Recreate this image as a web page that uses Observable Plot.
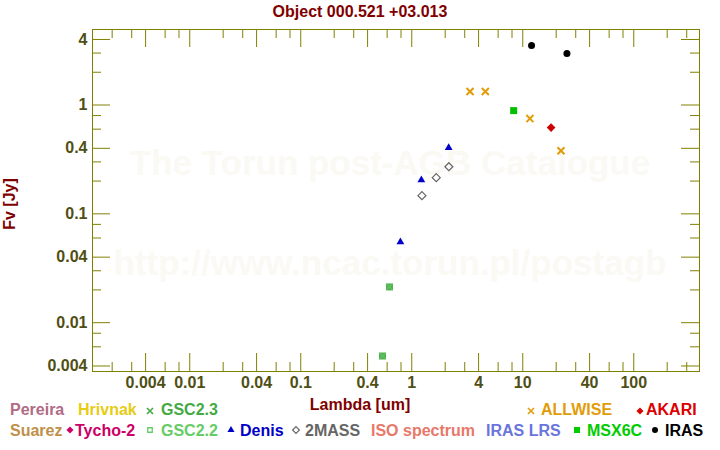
<!DOCTYPE html>
<html><head><meta charset="utf-8">
<script src="https://cdn.jsdelivr.net/npm/d3@7"></script>
<script src="https://cdn.jsdelivr.net/npm/@observablehq/plot@0.6"></script>
<style>
html,body{margin:0;padding:0;background:#fff;}
#wrap{position:relative;width:720px;height:450px;overflow:hidden;font-family:"Liberation Sans",Arial,sans-serif;font-weight:bold;font-size:16px;line-height:16px;}
.abs{position:absolute;white-space:nowrap;}
#chart{position:absolute;left:0;top:0;z-index:1;}
.wm{position:absolute;left:0;width:780px;text-align:center;font-size:35px;line-height:35px;color:#fbf9f4;z-index:0;}
</style>
</head><body>
<div id="wrap">
  <div class="wm" style="top:145px">The Torun post-AGB Catalogue</div>
  <div class="wm" style="top:245px">http://www.ncac.torun.pl/postagb</div>
  <div id="chart"></div>
  <div class="abs" id="title" style="left:0;width:720px;text-align:center;top:4px;color:#800000;z-index:2">Object 000.521 +03.013</div>
  <div class="abs" style="left:0;width:720px;text-align:center;top:396.5px;color:#800000;z-index:2">Lambda [um]</div>
  <div class="abs" style="left:10px;top:204px;transform:translate(-50%,-50%) rotate(-90deg);color:#800000;z-index:2">Fv [Jy]</div>
  <div id="legend"></div>
</div>
<script>
// ---------- data ----------
const irasLambda = [12, 25];
const irasFlux = [3.52, 2.97];
const allwiseLambda = [3.35, 4.6, 11.6, 22.1];
const allwiseFlux = [1.33, 1.33, 0.75, 0.38];
const msxLambda = [8.28];
const msxFlux = [0.888];
const akariLambda = [18];
const akariFlux = [0.62];
const denisLambda = [0.79, 1.22, 2.15];
const denisFlux = [0.055, 0.205, 0.404];
const tmassLambda = [1.235, 1.662, 2.159];
const tmassFlux = [0.147, 0.215, 0.271];
const gscLambda = [0.545, 0.63];
const gscFlux = [0.00494, 0.0213];

const xTickLabels = [0.004, 0.01, 0.04, 0.1, 0.4, 1, 4, 10, 40, 100];
const yTickLabels = [0.004, 0.01, 0.04, 0.1, 0.4, 1, 4];
const minorMultipliers = [2, 3, 6, 8];

const legendNames = ["Pereira","Hrivnak","GSC2.3","ALLWISE","AKARI","Suarez","Tycho-2","GSC2.2","Denis","2MASS","ISO spectrum","IRAS LRS","MSX6C","IRAS"];
const legendColors = ["#b06c86","#e6cc14","#44aa44","#e29c08","#dd0000","#c0904a","#cc0066","#66cc66","#0000c8","#666666","#e8786a","#6a74dc","#00cc00","#000000"];
const legendSymbols = [null,null,"times","times","diamond2f",null,"diamond2f","squareo","trianglef","diamond2o",null,null,"squaref","circlef"];

// ---------- layout ----------
const W = 720, H = 400, mT = 29, mB = 29, mL = 92, mR = 21;
const iw = W - mL - mR, ih = H - mT - mB;
const longLen = 18, shortLen = 9;
const axisColor = "#808000";
const labelColor = "#4f4f14";
const xDomain = [0.00133, 391], yDomain = [0.00356, 4.94];

function minorTicks(domain) {
  const out = [];
  for (let e = -4; e <= 3; e++) for (const m of minorMultipliers) {
    const v = +(m * Math.pow(10, e)).toPrecision(6);
    if (v > domain[0] && v < domain[1]) out.push(v);
  }
  return out;
}
const xMinor = minorTicks(xDomain), yMinor = minorTicks(yDomain);
const fmt = d3.format("~g");

const rows = (xs, ys) => xs.map((x, i) => ({x, y: ys[i]}));

const chart = Plot.plot({
  width: W, height: H,
  marginTop: mT, marginBottom: mB, marginLeft: mL, marginRight: mR,
  style: {fontFamily: "Liberation Sans, Arial, sans-serif", fontSize: "16px", fontWeight: "bold", color: labelColor, background: "transparent", overflow: "visible"},
  x: {type: "log", domain: xDomain, axis: null},
  y: {type: "log", domain: yDomain, axis: null},
  marks: [
    // tick marks (inward, all four sides)
    Plot.ruleX(xMinor, {x: d => d, insetTop: ih - shortLen, stroke: axisColor}),
    Plot.ruleX(xMinor, {x: d => d, insetBottom: ih - shortLen, stroke: axisColor}),
    Plot.ruleX(xTickLabels, {x: d => d, insetTop: ih - longLen, stroke: axisColor}),
    Plot.ruleX(xTickLabels, {x: d => d, insetBottom: ih - longLen, stroke: axisColor}),
    Plot.ruleY(yMinor, {y: d => d, insetRight: iw - shortLen, stroke: axisColor}),
    Plot.ruleY(yMinor, {y: d => d, insetLeft: iw - shortLen, stroke: axisColor}),
    Plot.ruleY(yTickLabels, {y: d => d, insetRight: iw - longLen, stroke: axisColor}),
    Plot.ruleY(yTickLabels, {y: d => d, insetLeft: iw - longLen, stroke: axisColor}),
    Plot.frame({stroke: axisColor}),
    // tick labels
    Plot.text(xTickLabels, {x: d => d, text: d => fmt(d), frameAnchor: "bottom", lineAnchor: "top", dy: 5, fill: labelColor, fontSize: 16, fontWeight: "bold"}),
    Plot.text(yTickLabels, {y: d => d, text: d => fmt(d), frameAnchor: "left", textAnchor: "end", dx: -5, fill: labelColor, fontSize: 16, fontWeight: "bold"}),
    // data
    Plot.dot(rows(gscLambda, gscFlux), {x: "x", y: "y", symbol: "square", r: 3.95, fill: "#52b152", stroke: "none"}),
    Plot.dot(rows(gscLambda, gscFlux), {x: "x", y: "y", symbol: "times", r: 3.0, stroke: "#66cc66", strokeWidth: 1}),
    Plot.dot(rows(denisLambda, denisFlux), {x: "x", y: "y", symbol: "triangle", r: 2.9, fill: "#0000c8", stroke: "none"}),
    Plot.dot(rows(tmassLambda, tmassFlux), {x: "x", y: "y", symbol: "diamond2", r: 3.6, fill: "none", stroke: "#666666", strokeWidth: 1.2}),
    Plot.dot(rows(allwiseLambda, allwiseFlux), {x: "x", y: "y", symbol: "times", r: 3.3, stroke: "#e29c08", strokeWidth: 2}),
    Plot.dot(rows(msxLambda, msxFlux), {x: "x", y: "y", symbol: "square", r: 3.95, fill: "#00c000", stroke: "none"}),
    Plot.dot(rows(akariLambda, akariFlux), {x: "x", y: "y", symbol: "diamond2", r: 3.9, fill: "#cc0000", stroke: "none"}),
    Plot.dot(rows(irasLambda, irasFlux), {x: "x", y: "y", symbol: "circle", r: 3.5, fill: "#000000", stroke: "none"})
  ]
});
document.getElementById("chart").appendChild(chart);

// ---------- legend ----------
const legendTextX = [10, 78, 161, 541, 646, 10, 75, 161, 240, 305, 371, 486, 587, 665];
const legendMarkX = [0, 0, 150, 530.5, 639.5, 0, 70, 150, 230.5, 296, 0, 0, 576.5, 655];
const legendRow = [0, 0, 0, 0, 0, 1, 1, 1, 1, 1, 1, 1, 1, 1];
const rowTextTop = [402, 422.5];
const rowMarkY = [410.5, 430];
const symInfo = {
  times: [d3.symbolTimes || d3.symbolCross, 26, false, 1.6],
  diamond2f: [d3.symbolDiamond2 || d3.symbolDiamond, 32, true, 0],
  diamond2o: [d3.symbolDiamond2 || d3.symbolDiamond, 30, false, 1.2],
  squareo: [d3.symbolSquare2 || d3.symbolSquare, 26, false, 1.3],
  squaref: [d3.symbolSquare, 36, true, 0],
  trianglef: [d3.symbolTriangle, 22, true, 0],
  circlef: [d3.symbolCircle, 28, true, 0]
};
let html = "";
legendNames.forEach((name, i) => {
  const r = legendRow[i], c = legendColors[i];
  html += `<div class="abs" style="left:${legendTextX[i]}px;top:${rowTextTop[r]}px;color:${c};z-index:2">${name}</div>`;
  const s = legendSymbols[i];
  if (s) {
    const [type, size, filled, sw] = symInfo[s];
    const p = d3.symbol(type, size)();
    html += `<svg class="abs" width="12" height="12" viewBox="-6 -6 12 12" style="left:${legendMarkX[i]-6}px;top:${rowMarkY[r]-6}px;z-index:2"><path d="${p}" fill="${filled ? c : "none"}" stroke="${filled ? "none" : c}" stroke-width="${sw}"/></svg>`;
  }
});
document.getElementById("legend").innerHTML = html;
</script>
</body></html>
